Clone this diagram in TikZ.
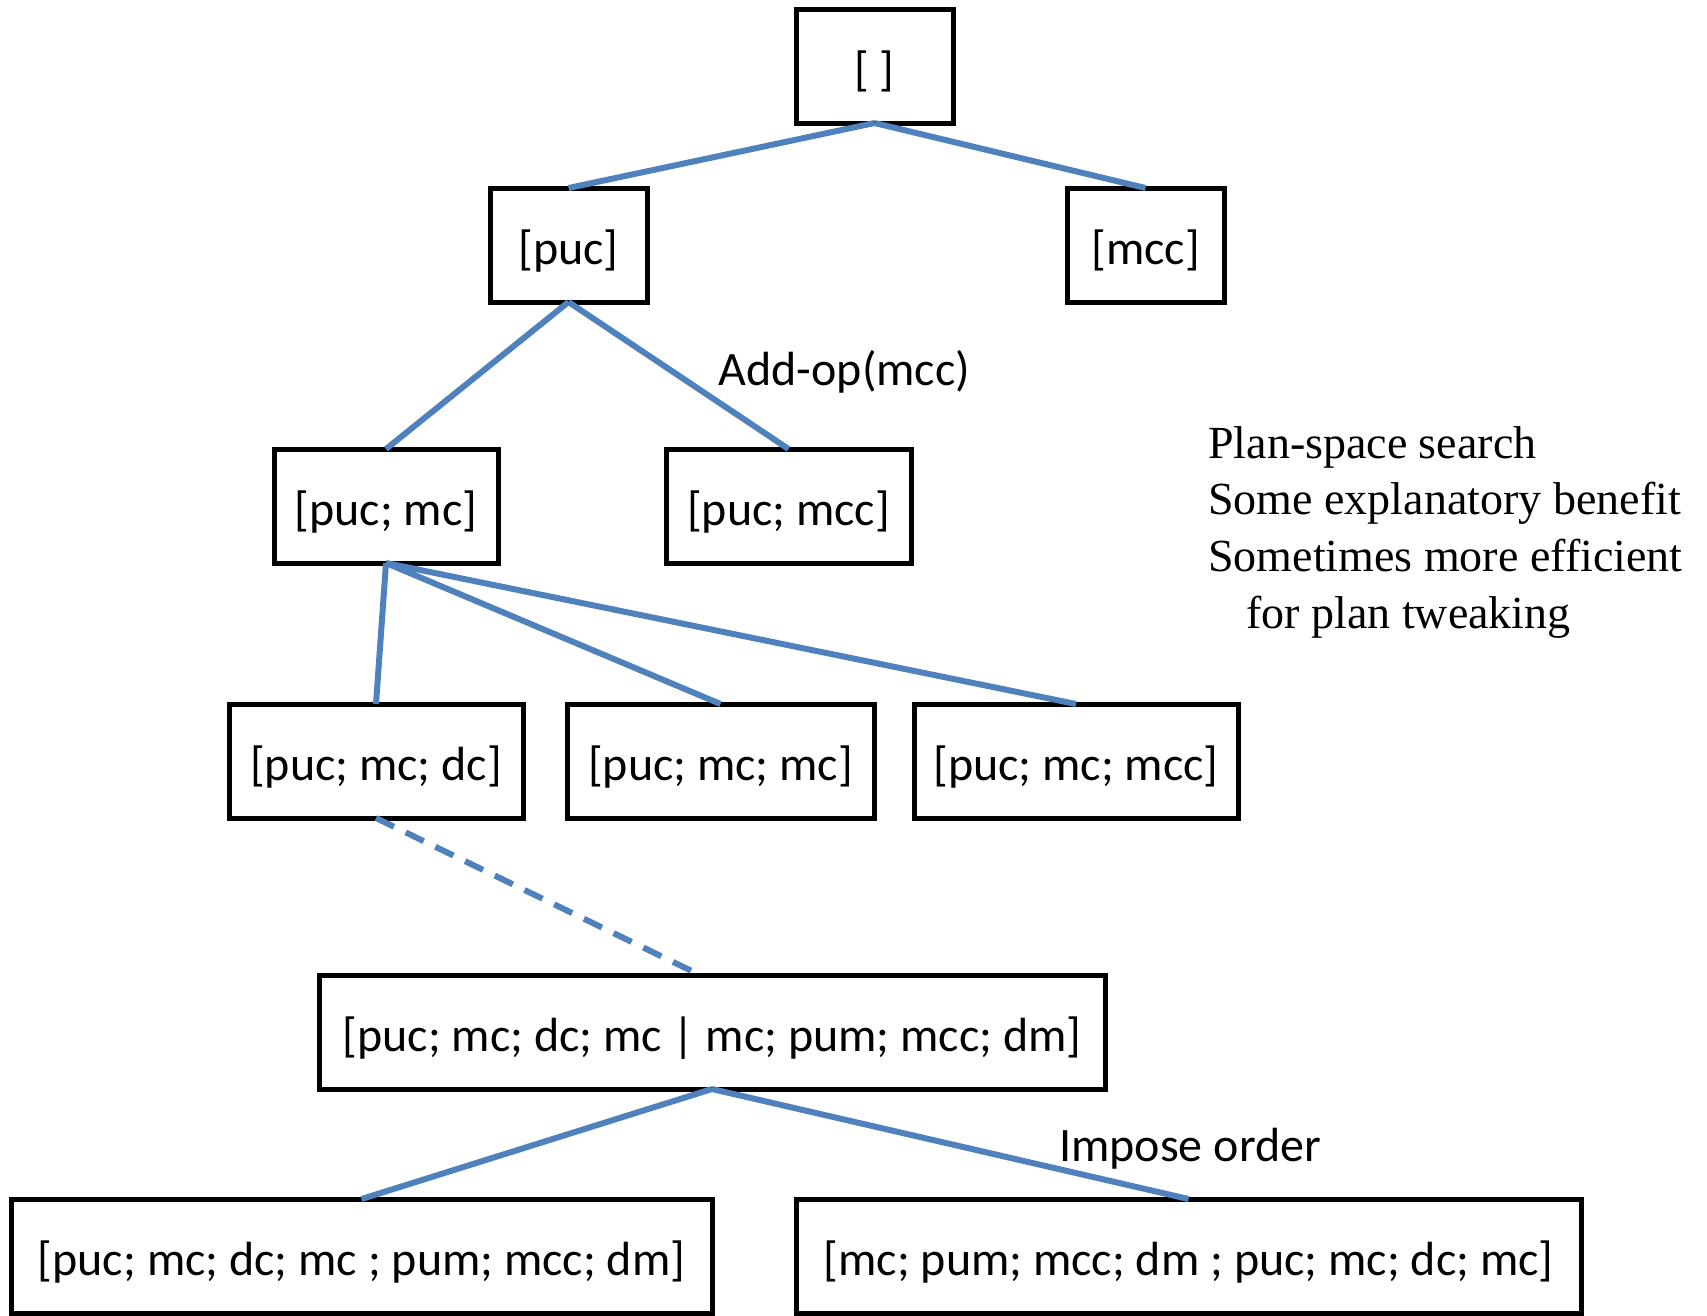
\documentclass[tikz,border=0pt]{standalone}
\usepackage{fontspec}
\setmainfont{Carlito}
\newfontfamily\notefont{Liberation Serif}
\usetikzlibrary{positioning}
\usetikzlibrary{shadows}
\definecolor{linkblue}{RGB}{79,129,189}

\tikzset{
  plan/.style={draw=black, line width=5pt, fill=white, minimum height=114pt,
    inner sep=0pt, outer sep=0pt, text height=40pt, text depth=2pt,
    font=\fontsize{48}{57}\selectfont,
    drop shadow={shadow xshift=2pt, shadow yshift=-3pt, opacity=.15, fill=black}},
  link/.style={draw=linkblue, line width=6pt},
  oplabel/.style={font=\fontsize{48}{57}\selectfont, anchor=west, inner sep=0pt},
  note/.style={font=\notefont\fontsize{46}{56.6}\selectfont, align=left, inner sep=0pt},
}

\begin{document}
\begin{tikzpicture}[x=1pt, y=-1pt]
    \useasboundingbox (0,0) rectangle (1707,1315);

    \node[plan, minimum width=157pt] (root) at (874.5,66) {[ ]};
    \node[plan, minimum width=157pt, below=65pt of root, xshift=-306pt] (puc) {[puc]};
    \node[plan, minimum width=157pt, below=65pt of root, xshift=271pt] (mcc) {[mcc]};

    \node[plan, minimum width=224pt, below=147pt of puc, xshift=-182.5pt] (pucmc) {[puc; mc]};
    \node[plan, minimum width=245pt, below=147pt of puc, xshift=220pt] (pucmcc) {[puc; mcc]};

    \node[plan, minimum width=294pt, below=141pt of pucmc, xshift=-10pt] (pucmcdc) {[puc; mc; dc]};
    \node[plan, minimum width=307pt, below=141pt of pucmc, xshift=334.5pt] (pucmcmc) {[puc; mc; mc]};
    \node[plan, minimum width=324pt, below=141pt of pucmc, xshift=690pt] (pucmcmcc) {[puc; mc; mcc]};

    \node[plan, minimum width=786pt, below=157pt of pucmcdc, xshift=336pt] (partial) {[puc; mc; dc; mc | mc; pum; mcc; dm]};

    \node[plan, minimum width=701pt, below=110pt of partial, xshift=-350.5pt] (orderA) {[puc; mc; dc; mc ; pum; mcc; dm]};
    \node[plan, minimum width=785pt, below=110pt of partial, xshift=476.5pt] (orderB) {[mc; pum; mcc; dm ; puc; mc; dc; mc]};

    % refinements
    \draw[link] (root.south) -- (puc.north);
    \draw[link] (root.south) -- (mcc.north);
    \draw[link] (puc.south) -- (pucmc.north);
    \draw[link] (puc.south) -- (pucmcc.north)
      node[oplabel, pos=0.46, xshift=46pt, yshift=-2pt] (addop) {Add-op(mcc)};
    \draw[link] (pucmc.south) -- (pucmcdc.north);
    \draw[link] (pucmc.south) -- (pucmcmc.north);
    \draw[link] (pucmc.south) -- (pucmcmcc.north);
    \draw[link, dash pattern=on 20pt off 13pt] (pucmcdc.south) -- ([xshift=-12pt]partial.north);
    \draw[link] (partial.south) -- (orderA.north);
    \draw[link] (partial.south) -- (orderB.north)
      node[oplabel, pos=0.5, xshift=106pt, yshift=-5pt] (impose) {Impose order};

    \node[note, anchor=base west] (notes) at (1208,628)
      {Plan-space search\\ Some explanatory benefit\\ Sometimes more efficient\\ \hspace*{38pt}for plan tweaking};
\end{tikzpicture}
\end{document}
